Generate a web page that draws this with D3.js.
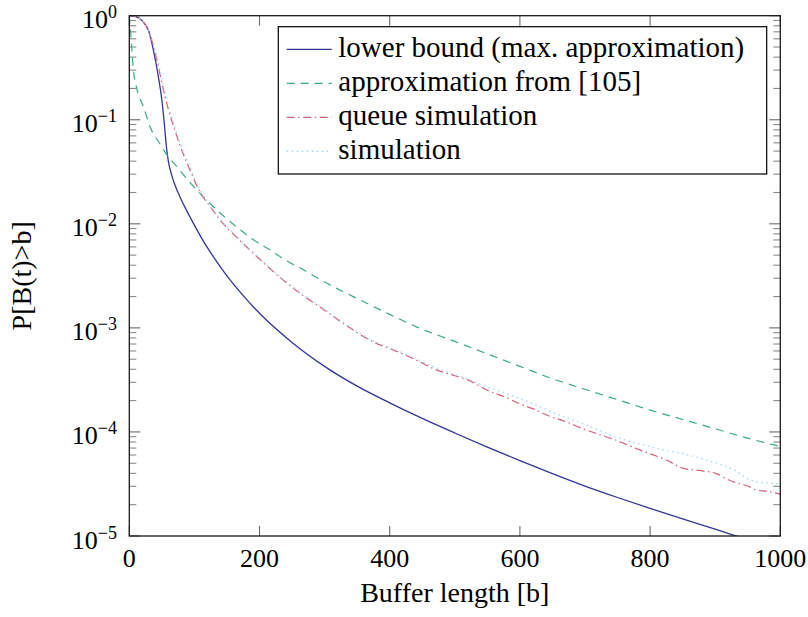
<!DOCTYPE html>
<html><head><meta charset="utf-8">
<script src="https://cdn.jsdelivr.net/npm/d3@7"></script>
<style>html,body{margin:0;padding:0;background:#fff;}svg{display:block;}</style>
</head><body>
<svg id="chart" width="808" height="617"></svg>
<script>
// ---- data (log10 of P[B(t)>b]) ----
const bufferLowerBound = [0,10,20,30,37,45,50,54,57,60,65,70,77,85,95,105,119,135,150,175,200,250,300,350,400,450,500,550,600,650,700,750,800,850,900,950,1000];
const lowerBoundLog10 = [0,-0.01,-0.05,-0.15,-0.33,-0.6,-0.81,-1.05,-1.26,-1.40,-1.53,-1.625,-1.73,-1.835,-1.955,-2.07,-2.22,-2.37,-2.50,-2.69,-2.86,-3.14,-3.37,-3.56,-3.72,-3.87,-4.01,-4.145,-4.275,-4.40,-4.52,-4.63,-4.735,-4.835,-4.935,-5.035,-5.135];

const bufferApprox = [0,2,4,6,10,16,22,32,47,57,73,90,109,135,165,190,216,240,267,300,344,400,441,500,550,600,646,700,750,800,850,900,950,1000];
const approxLog10 = [0,-0.15,-0.33,-0.5,-0.66,-0.79,-0.88,-1.07,-1.23,-1.33,-1.45,-1.58,-1.71,-1.87,-2.03,-2.15,-2.25,-2.35,-2.44,-2.56,-2.70,-2.87,-2.99,-3.13,-3.25,-3.37,-3.48,-3.59,-3.69,-3.79,-3.88,-3.97,-4.06,-4.14];

const bufferSim = [0,10,20,30,37,45,52,60,70,78,93,109,125,139,165,190,216,242,267,293,320,344,370,400,420,441,470,500,520,550,575,600,625,646,670,697,720,748,775,800,825,851,875,902,920,933,950,964,980,1000];
const queueSimLog10 = [0,-0.01,-0.05,-0.16,-0.29,-0.50,-0.70,-0.90,-1.10,-1.25,-1.48,-1.70,-1.84,-1.96,-2.13,-2.28,-2.43,-2.57,-2.69,-2.80,-2.92,-3.02,-3.12,-3.20,-3.25,-3.31,-3.40,-3.46,-3.50,-3.60,-3.66,-3.73,-3.79,-3.85,-3.90,-3.97,-4.02,-4.08,-4.15,-4.21,-4.27,-4.35,-4.37,-4.40,-4.46,-4.49,-4.52,-4.56,-4.57,-4.60];
const simulationLog10 = [0,-0.01,-0.05,-0.15,-0.27,-0.46,-0.66,-0.86,-1.07,-1.22,-1.45,-1.68,-1.83,-1.95,-2.12,-2.27,-2.42,-2.56,-2.68,-2.79,-2.91,-3.01,-3.11,-3.19,-3.24,-3.30,-3.38,-3.45,-3.49,-3.57,-3.62,-3.68,-3.74,-3.80,-3.86,-3.92,-3.98,-4.05,-4.10,-4.14,-4.18,-4.21,-4.25,-4.30,-4.34,-4.38,-4.45,-4.48,-4.49,-4.50];

const seriesNames = ["lower bound (max. approximation)", "approximation from [105]", "queue simulation", "simulation"];
const xTickValues = [0,200,400,600,800,1000];
const yTickExponents = [0,-1,-2,-3,-4,-5];
const xLabel = "Buffer length [b]";
const yLabel = "P[B(t)>b]";

// ---- layout ----
const svg = d3.select("#chart");
const L = 129.3, R = 780.3, T = 15.7, B = 536;
const x = d3.scaleLinear().domain([0,1000]).range([L,R]);
const y = d3.scaleLog().domain([1e-5,1]).range([B,T]);
const FONT = "'Liberation Serif','Tinos','DejaVu Serif',serif";

const styles = [
  {color:"#34349a", dash:null, width:1.3},
  {color:"#3aaa8a", dash:"8,6", width:1.2},
  {color:"#d2627c", dash:"8,3.5,1.5,3.5", width:1.2},
  {color:"#a6d8f0", dash:"1.5,3.5", width:1.4}
];
const series = [
  bufferLowerBound.map((b,i)=>({b, p:Math.pow(10, lowerBoundLog10[i])})),
  bufferApprox.map((b,i)=>({b, p:Math.pow(10, approxLog10[i])})),
  bufferSim.map((b,i)=>({b, p:Math.pow(10, queueSimLog10[i])})),
  bufferSim.map((b,i)=>({b, p:Math.pow(10, simulationLog10[i])}))
];

svg.append("defs").append("clipPath").attr("id","clip")
  .append("rect").attr("x",L).attr("y",T).attr("width",R-L).attr("height",B-T);

// minor ticks
const minor = [];
for (let k=-5;k<0;k++) for (let m=2;m<=9;m++) minor.push(m*Math.pow(10,k));
const tk = svg.append("g");
minor.forEach(v=>{
  tk.append("line").attr("x1",L).attr("x2",L+7).attr("y1",y(v)).attr("y2",y(v)).attr("stroke","#8a8a8a").attr("stroke-width",1.1);
  tk.append("line").attr("x1",R).attr("x2",R-7).attr("y1",y(v)).attr("y2",y(v)).attr("stroke","#8a8a8a").attr("stroke-width",1.1);
});
yTickExponents.forEach(e=>{
  const v = Math.pow(10,e);
  tk.append("line").attr("x1",L).attr("x2",L+11).attr("y1",y(v)).attr("y2",y(v)).attr("stroke","#6a6a6a").attr("stroke-width",1.1);
  tk.append("line").attr("x1",R).attr("x2",R-11).attr("y1",y(v)).attr("y2",y(v)).attr("stroke","#6a6a6a").attr("stroke-width",1.1);
});
xTickValues.forEach(v=>{
  tk.append("line").attr("x1",x(v)).attr("x2",x(v)).attr("y1",B).attr("y2",B-10).attr("stroke","#6a6a6a").attr("stroke-width",1.1);
  tk.append("line").attr("x1",x(v)).attr("x2",x(v)).attr("y1",T).attr("y2",T+10).attr("stroke","#6a6a6a").attr("stroke-width",1.1);
});

// lines
const line = d3.line().x(d=>x(d.b)).y(d=>y(d.p)).curve(d3.curveMonotoneX);
const lg = svg.append("g").attr("clip-path","url(#clip)");
series.forEach((s,i)=>{
  lg.append("path").datum(s).attr("d",line).attr("fill","none")
    .attr("stroke",styles[i].color).attr("stroke-width",styles[i].width)
    .attr("stroke-dasharray",styles[i].dash);
});

// frame
svg.append("rect").attr("x",L).attr("y",T).attr("width",R-L).attr("height",B-T)
  .attr("fill","none").attr("stroke","#1a1a1a").attr("stroke-width",1.3);

// x tick labels
svg.append("g").selectAll("text").data(xTickValues).join("text")
  .attr("x",d=>x(d)).attr("y",566.5).attr("text-anchor","middle")
  .style("font-family",FONT).attr("font-size",26).attr("fill","#000").text(d=>d);

// y tick labels
const yl = svg.append("g");
yTickExponents.forEach(e=>{
  const t = yl.append("text").attr("x",117).attr("y",y(Math.pow(10,e))+12.5)
    .attr("text-anchor","end").style("font-family",FONT).attr("font-size",26).attr("fill","#000");
  t.append("tspan").text("10");
  t.append("tspan").attr("dy",-10).attr("font-size",18).text(e===0?"0":"\u2212"+(-e));
});

// axis labels
svg.append("text").attr("x",(L+R)/2).attr("y",601.5).attr("text-anchor","middle")
  .style("font-family",FONT).attr("font-size",28).attr("fill","#000").text(xLabel);
svg.append("text").attr("transform",`translate(31,${(T+B)/2}) rotate(-90)`).attr("text-anchor","middle")
  .style("font-family",FONT).attr("font-size",28).attr("fill","#000").text(yLabel);

// legend
const leg = svg.append("g");
leg.append("rect").attr("x",278.3).attr("y",26.7).attr("width",488.4).attr("height",147.3)
  .attr("fill","#fff").attr("stroke","#000").attr("stroke-width",1.2);
seriesNames.forEach((n,i)=>{
  const base = 56.7 + i*34;
  leg.append("line").attr("x1",286.7).attr("x2",331.7).attr("y1",base-7.4).attr("y2",base-7.4)
    .attr("stroke",styles[i].color).attr("stroke-width",styles[i].width).attr("stroke-dasharray",styles[i].dash);
  leg.append("text").attr("x",338.3).attr("y",base).style("font-family",FONT).attr("font-size",29)
    .attr("fill","#000").text(n);
});
</script>
</body></html>
